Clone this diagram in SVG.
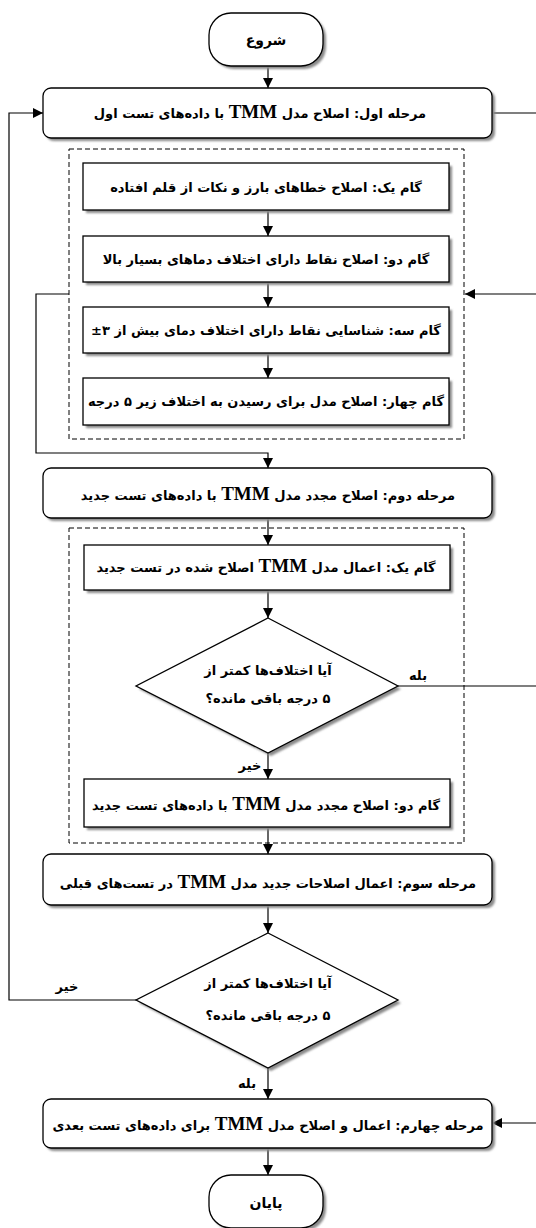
<svg xmlns="http://www.w3.org/2000/svg" width="536" height="1228" viewBox="0 0 536 1228">
<style>
.bx{fill:#fff;stroke:#000;stroke-width:1.3}
.sh{fill:#8a8a8a;filter:url(#bl)}
.dash{fill:none;stroke:#000;stroke-width:1;stroke-dasharray:5,3}
.ln{fill:none;stroke:#000;stroke-width:1.2}
.t{font-family:"DejaVu Sans",sans-serif;font-weight:bold;font-size:13px;fill:#000;text-anchor:middle;direction:rtl}
.lat{font-family:"Liberation Serif",serif;font-weight:bold;font-size:19px}
</style>
<defs>
<filter id="bl" x="-10%" y="-10%" width="120%" height="130%"><feGaussianBlur stdDeviation="0.8"/></filter>
<marker id="ar" markerUnits="userSpaceOnUse" markerWidth="11" markerHeight="11" refX="10" refY="5.5" orient="auto"><path d="M0,0.5 L10,5.5 L0,10.5 z" fill="#000"/></marker>
</defs>
<g id="dashed-groups">
<rect class="dash" x="69" y="149" width="395" height="290"/>
<rect class="dash" x="69" y="528" width="395" height="315"/>
</g>
<g id="connectors">
<path class="ln" d="M268,66 V88" marker-end="url(#ar)"/>
<path class="ln" d="M268,210 V236" marker-end="url(#ar)"/>
<path class="ln" d="M268,282 V307" marker-end="url(#ar)"/>
<path class="ln" d="M268,353 V378" marker-end="url(#ar)"/>
<path class="ln" d="M69,294 H36 V453 H268 V468" marker-end="url(#ar)"/>
<path class="ln" d="M536,294 H465" marker-end="url(#ar)"/>
<path class="ln" d="M492,113 H536"/>
<path class="ln" d="M136,1000 H9 V113 H43" marker-end="url(#ar)"/>
<path class="ln" d="M268,518 V545" marker-end="url(#ar)"/>
<path class="ln" d="M268,590 V618" marker-end="url(#ar)"/>
<path class="ln" d="M398,686 H536"/>
<path class="ln" d="M268,753 V779" marker-end="url(#ar)"/>
<path class="ln" d="M268,827 V854" marker-end="url(#ar)"/>
<path class="ln" d="M268,905 V933" marker-end="url(#ar)"/>
<path class="ln" d="M268,1068 V1099" marker-end="url(#ar)"/>
<path class="ln" d="M536,1123 H492" marker-end="url(#ar)"/>
<path class="ln" d="M268,1148 V1175" marker-end="url(#ar)"/>
<text class="t" x="418" y="680">بله</text>
<text class="t" x="250" y="770">خیر</text>
<text class="t" x="67" y="991">خیر</text>
<text class="t" x="247" y="1088">بله</text>
</g>
<g id="start">
<rect class="sh" x="212" y="16" width="114" height="53" rx="22"/>
<rect class="bx" x="209" y="13" width="114" height="53" rx="22"/>
<text class="t" x="266" y="45" style="font-size:14px">شروع</text>
</g>
<g id="stage1">
<rect class="sh" x="46" y="91" width="449" height="50" rx="8"/>
<rect class="bx" x="43" y="88" width="449" height="50" rx="8"/>
<text class="t" x="260" y="118">مرحله اول: اصلاح مدل <tspan class="lat">TMM</tspan> با داده‌های تست اول</text>
</g>
<g id="step1">
<rect class="sh" x="86" y="166" width="366" height="47"/>
<rect class="bx" x="83" y="163" width="366" height="47"/>
<text class="t" x="266" y="192">گام یک: اصلاح خطاهای بارز و نکات از قلم افتاده</text>
</g>
<g id="step2">
<rect class="sh" x="86" y="239" width="366" height="46"/>
<rect class="bx" x="83" y="236" width="366" height="46"/>
<text class="t" x="266" y="264">گام دو: اصلاح نقاط دارای اختلاف دماهای بسیار بالا</text>
</g>
<g id="step3">
<rect class="sh" x="86" y="310" width="366" height="46"/>
<rect class="bx" x="83" y="307" width="366" height="46"/>
<text class="t" x="266" y="335">گام سه: شناسایی نقاط دارای اختلاف دمای بیش از ۳±</text>
</g>
<g id="step4">
<rect class="sh" x="86" y="381" width="366" height="47"/>
<rect class="bx" x="83" y="378" width="366" height="47"/>
<text class="t" x="266" y="406">گام چهار: اصلاح مدل برای رسیدن به اختلاف زیر ۵ درجه</text>
</g>
<g id="stage2">
<rect class="sh" x="46" y="471" width="449" height="50" rx="8"/>
<rect class="bx" x="43" y="468" width="449" height="50" rx="8"/>
<text class="t" x="268" y="500">مرحله دوم: اصلاح مجدد مدل <tspan class="lat">TMM</tspan> با داده‌های تست جدید</text>
</g>
<g id="step1b">
<rect class="sh" x="87" y="548" width="366" height="45"/>
<rect class="bx" x="84" y="545" width="366" height="45"/>
<text class="t" x="266" y="572">گام یک: اعمال مدل <tspan class="lat">TMM</tspan> اصلاح شده در تست جدید</text>
</g>
<g id="decision1">
<polygon class="sh" points="271,621 401,689 271,756 139,689"/>
<polygon class="bx" points="268,618 398,686 268,753 136,686"/>
<text class="t" x="268" y="675">آیا اختلاف‌ها کمتر از</text>
<text class="t" x="268" y="703">۵ درجه باقی مانده؟</text>
</g>
<g id="step2b">
<rect class="sh" x="87" y="782" width="366" height="48"/>
<rect class="bx" x="84" y="779" width="366" height="48"/>
<text class="t" x="266" y="810">گام دو: اصلاح مجدد مدل <tspan class="lat">TMM</tspan> با داده‌های تست جدید</text>
</g>
<g id="stage3">
<rect class="sh" x="46" y="857" width="449" height="51" rx="8"/>
<rect class="bx" x="43" y="854" width="449" height="51" rx="8"/>
<text class="t" x="268" y="888">مرحله سوم: اعمال اصلاحات جدید مدل <tspan class="lat">TMM</tspan> در تست‌های قبلی</text>
</g>
<g id="decision2">
<polygon class="sh" points="271,936 401,1003 271,1071 139,1003"/>
<polygon class="bx" points="268,933 398,1000 268,1068 136,1000"/>
<text class="t" x="268" y="988">آیا اختلاف‌ها کمتر از</text>
<text class="t" x="268" y="1020">۵ درجه باقی مانده؟</text>
</g>
<g id="stage4">
<rect class="sh" x="46" y="1102" width="449" height="49" rx="8"/>
<rect class="bx" x="43" y="1099" width="449" height="49" rx="8"/>
<text class="t" x="268" y="1130">مرحله چهارم: اعمال و اصلاح مدل <tspan class="lat">TMM</tspan> برای داده‌های تست بعدی</text>
</g>
<g id="end">
<rect class="sh" x="212" y="1178" width="114" height="53" rx="22"/>
<rect class="bx" x="209" y="1175" width="114" height="53" rx="22"/>
<text class="t" x="266" y="1208" style="font-size:14px">پایان</text>
</g>
</svg>
